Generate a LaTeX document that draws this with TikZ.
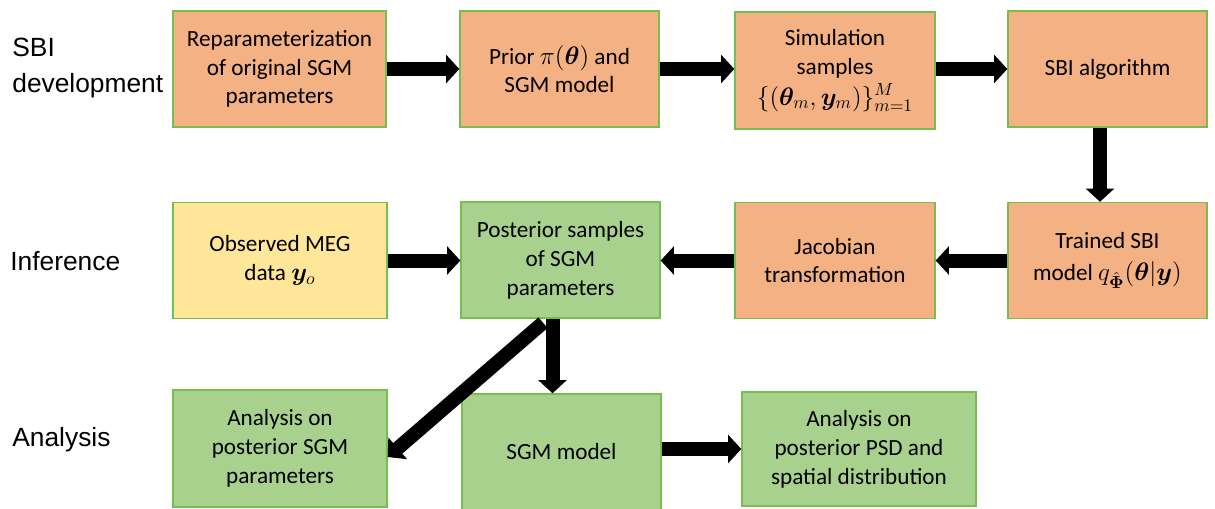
\documentclass[tikz,border=0pt]{standalone}
\usepackage{amsmath}
\usepackage{bm}
\usepackage{fontspec}
\setmainfont{Carlito}
\newfontfamily\rowfont{Liberation Sans}
\usetikzlibrary{arrows.meta}
\definecolor{boxorange}{HTML}{F4B183}
\definecolor{boxgreen}{HTML}{A9D18E}
\definecolor{boxyellow}{HTML}{FFE699}
\definecolor{boxedge}{HTML}{78BE4E}
\newcommand{\bigmath}[1]{{\fontsize{14.5}{16.4}\selectfont$#1$}}
\begin{document}
\begin{tikzpicture}[x=0.02cm,y=-0.02cm]
    \tikzstyle{blk}=[draw=boxedge, line width=0.8pt, align=center, inner sep=0pt,
        font=\fontsize{13.2}{16.4}\selectfont, minimum height=2.32cm]
    \tikzstyle{orangeblk}=[blk, fill=boxorange]
    \tikzstyle{greenblk}=[blk, fill=boxgreen]
    \tikzstyle{yellowblk}=[blk, fill=boxyellow]
    \tikzstyle{rowlabel}=[anchor=west, align=left, inner sep=0pt,
        font=\rowfont\fontsize{15}{20}\selectfont]
    \tikzstyle{bigarrow}=[line width=0.28cm, -{Triangle[length=0pt 0.95, width=0pt 2]}]
    \useasboundingbox (0,0) rectangle (1215,508);
    % row labels
    \node [rowlabel] (sbidev) at (12,68) {SBI\\development};
    \node [rowlabel] (infer) at (10,261) {Inference};
    \node [rowlabel] (analys) at (12,440) {Analysis};
    % SBI development
    \node [orangeblk, minimum width=4.26cm] (repar) at (279.5,69) {Reparameterization\\of original SGM\\parameters};
    \node [orangeblk, minimum width=3.98cm] (prior) at (559.5,69) {Prior \bigmath{\pi(\bm{\theta})} and\\SGM model};
    \node [orangeblk, minimum width=4cm, minimum height=2.34cm] (simul) at (835,70.5) {Simulation\\samples\\[1pt]\bigmath{\{(\bm{\theta}_m,\bm{y}_m)\}_{m=1}^{M}}};
    \node [orangeblk, minimum width=3.98cm] (sbialg) at (1107.5,69) {SBI algorithm};
    % inference
    \node [yellowblk, minimum width=4.28cm] (meg) at (280,260.5) {Observed MEG\\data \bigmath{\bm{y}_o}};
    \node [greenblk, minimum width=3.98cm] (post) at (560.5,260) {Posterior samples\\of SGM\\parameters};
    \node [orangeblk, minimum width=4cm] (jacob) at (835,260.5) {Jacobian\\transformation};
    \node [orangeblk, minimum width=3.98cm] (trained) at (1107.5,260.5) {Trained SBI\\[2pt]model \bigmath{q_{\hat{\bm{\Phi}}}(\bm{\theta}|\bm{y})}};
    % analysis
    \node [greenblk, minimum width=4.28cm, minimum height=2.34cm] (anapar) at (280,448.5) {Analysis on\\posterior SGM\\parameters};
    \node [greenblk, minimum width=3.98cm] (sgm) at (561.5,452) {SGM model};
    \node [greenblk, minimum width=4.68cm, minimum height=2.28cm] (anapsd) at (859,449) {Analysis on\\posterior PSD and\\spatial distribution};
    % arrows
    \draw [bigarrow] (repar.east) -- (prior.west);
    \draw [bigarrow] (prior.east) -- (simul.west |- prior.east);
    \draw [bigarrow] (simul.east |- sbialg.west) -- (sbialg.west);
    \draw [bigarrow] ([xshift=-0.15cm]sbialg.south) -- ([xshift=-0.15cm]trained.north);
    \draw [bigarrow] (trained.west) -- (jacob.east);
    \draw [bigarrow] (jacob.west) -- (post.east |- jacob.west);
    \draw [bigarrow] (meg.east) -- (post.west |- meg.east);
    \draw [bigarrow] ([xshift=-0.16cm]post.south) -- ([xshift=-0.16cm]post.south |- sgm.north);
    \draw [bigarrow] ([xshift=-0.35cm,yshift=-0.08cm]post.south) -- ([yshift=-0.17cm]anapar.east);
    \draw [bigarrow] (sgm.east |- anapsd.west) -- (anapsd.west);
\end{tikzpicture}
\end{document}
